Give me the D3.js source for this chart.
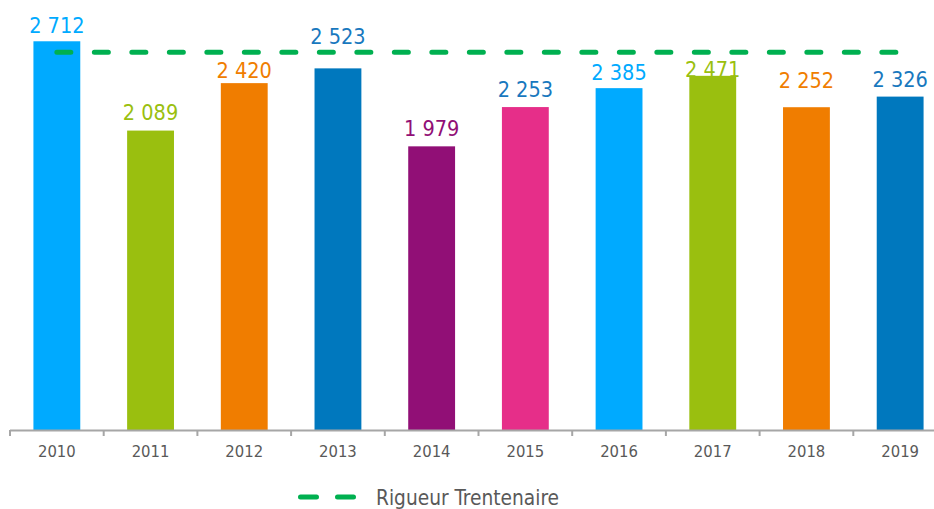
<!DOCTYPE html>
<html>
<head>
<meta charset="utf-8">
<script src="https://cdn.jsdelivr.net/npm/d3@7"></script>
<style>
  html, body { margin: 0; padding: 0; background: #fff; }
  svg { display: block; }
  text { font-family: "DejaVu Sans Condensed", "DejaVu Sans", sans-serif; font-stretch: condensed; }
</style>
</head>
<body>
<svg id="chart" width="934" height="509"></svg>
<script>
// ---- data ----
const years = ["2010","2011","2012","2013","2014","2015","2016","2017","2018","2019"];
const values = [2712, 2089, 2420, 2523, 1979, 2253, 2385, 2471, 2252, 2326];
const referenceValue = 2635;
const referenceLabel = "Rigueur Trentenaire";

// ---- styles ----
const barColors = ["#00AAFF","#9ABF0F","#F07D00","#0078BE","#910F76","#E62E89","#00AAFF","#9ABF0F","#F07D00","#0078BE"];
const labelColors = ["#00AAFF","#9ABF0F","#F07D00","#1878BE","#910F76","#1878BE","#00AAFF","#9ABF0F","#F07D00","#1878BE"];
// gap (px) between bar top and label baseline, as manually placed in the source
const labelGap = [8, 11, 5, 24, 10, 10, 8, -1, 19, 10];
const refColor = "#00B050";

const svg = d3.select("#chart");
const W = 934;

const x = d3.scaleBand().domain(years).range([10, 947]).paddingInner(0.5).paddingOuter(0.25);
const y = d3.scaleLinear().domain([0, 3000]).range([430, 0]);
const step = x.step();

// bars
svg.append("g").selectAll("rect").data(years).join("rect")
  .attr("x", d => x(d))
  .attr("width", x.bandwidth())
  .attr("y", (d, i) => y(values[i]))
  .attr("height", (d, i) => y(0) - y(values[i]))
  .attr("fill", (d, i) => barColors[i]);

// axis line + ticks
const axisG = svg.append("g");
axisG.append("line")
  .attr("x1", 10).attr("x2", W).attr("y1", y(0) + 0.5).attr("y2", y(0) + 0.5)
  .attr("stroke", "#A6A6A6").attr("stroke-width", 2);
axisG.selectAll("line.tick").data(years).join("line")
  .attr("class", "tick")
  .attr("x1", d => x(d) + x.bandwidth() / 2 - step / 2)
  .attr("x2", d => x(d) + x.bandwidth() / 2 - step / 2)
  .attr("y1", y(0)).attr("y2", y(0) + 6)
  .attr("stroke", "#A6A6A6").attr("stroke-width", 2);
axisG.selectAll("text").data(years).join("text")
  .attr("x", d => x(d) + x.bandwidth() / 2)
  .attr("y", y(0) + 27)
  .attr("text-anchor", "middle")
  .attr("font-size", 16.5)
  .attr("fill", "#595959")
  .text(d => d);

// reference dashed line
svg.append("line")
  .attr("x1", x(years[0]) + x.bandwidth() / 2)
  .attr("x2", x(years[years.length - 1]) + x.bandwidth() / 2)
  .attr("y1", y(referenceValue)).attr("y2", y(referenceValue))
  .attr("stroke", refColor).attr("stroke-width", 5)
  .attr("stroke-linecap", "round")
  .attr("stroke-dasharray", "14,23.5");

// value labels (space as thousands separator)
const fmt = v => d3.format(",")(v).replace(/,/g, " ");
svg.append("g").selectAll("text").data(years).join("text")
  .attr("x", d => x(d) + x.bandwidth() / 2)
  .attr("y", (d, i) => y(values[i]) - labelGap[i])
  .attr("text-anchor", "middle")
  .attr("font-size", 21.5)
  .attr("fill", (d, i) => labelColors[i])
  .text((d, i) => fmt(values[i]));

// legend
const lg = svg.append("g");
lg.append("line")
  .attr("x1", 300.5).attr("x2", 353.5).attr("y1", 497).attr("y2", 497)
  .attr("stroke", refColor).attr("stroke-width", 5)
  .attr("stroke-linecap", "round")
  .attr("stroke-dasharray", "16,21");
lg.append("text")
  .attr("x", 376).attr("y", 505)
  .attr("font-size", 20.7)
  .attr("fill", "#595959")
  .text(referenceLabel);
</script>
</body>
</html>
